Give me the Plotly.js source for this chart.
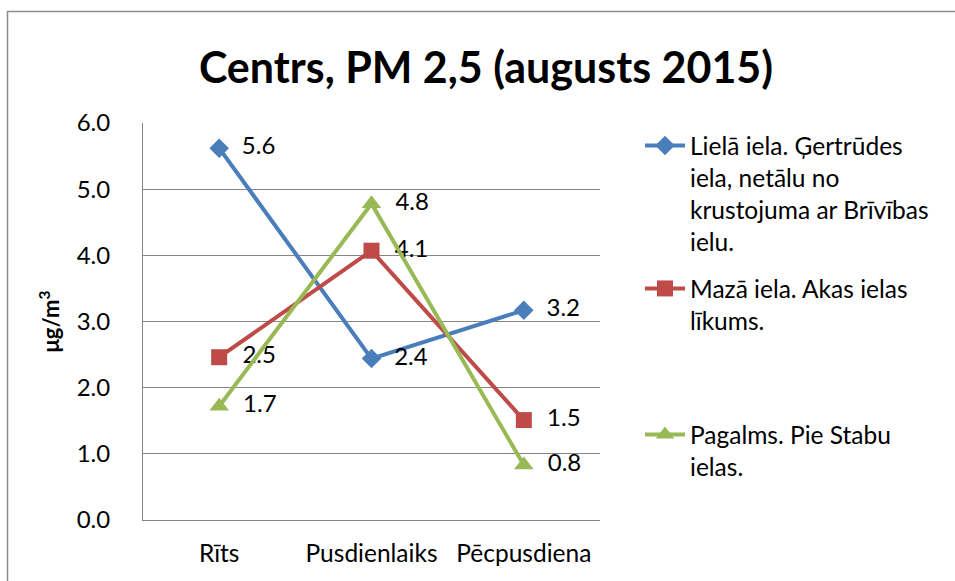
<!DOCTYPE html>
<html>
<head>
<meta charset="utf-8">
<script src="https://cdn.plot.ly/plotly-3.0.1.min.js"></script>
<style>html,body{margin:0;padding:0;background:#fff;}#chart{width:955px;height:581px;}</style>
</head>
<body>
<div id="chart"></div>
<script>
const categories = ["Rīts", "Pusdienlaiks", "Pēcpusdiena"];
const seriesNames = [
  "Lielā iela. Ģertrūdes<br>iela, netālu no<br>krustojuma ar Brīvības<br>ielu.",
  "Mazā iela. Akas ielas<br>līkums.",
  "Pagalms. Pie Stabu<br>ielas."
];
const lielaIela = [5.62, 2.44, 3.17];
const mazaIela = [2.46, 4.07, 1.51];
const pagalms = [1.72, 4.78, 0.83];
const yTicks = [0, 1, 2, 3, 4, 5, 6];

const FONT = "Lato, 'Open Sans', sans-serif";
const colors = ["#4A7EBB", "#BE4B48", "#98B954"];
const symbols = ["diamond", "square", "triangle-up"];
const sizes = [15, 16, 17];
const values = [lielaIela, mazaIela, pagalms];
const legends = ["legend", "legend2", "legend3"];

const traces = values.map((v, i) => ({
  type: "scatter",
  mode: "lines+markers+text",
  x: categories,
  y: v,
  name: seriesNames[i],
  legend: legends[i],
  line: {color: colors[i], width: 4},
  marker: {symbol: symbols[i], size: sizes[i], color: colors[i]},
  texttemplate: "\u00a0\u00a0%{y:.1f}",
  textposition: "middle right",
  textfont: {family: FONT, size: 24, color: "#000"},
  cliponaxis: false,
  hoverinfo: "x+y"
}));

const plotL = 143, plotR = 600, plotT = 123, plotB = 520;
const W = 955, H = 581;
const pw = plotR - plotL, ph = plotB - plotT;
const px = x => (x - plotL) / pw;
const py = y => (plotB - y) / ph;

const legendBase = {
  xanchor: "left", yanchor: "top",
  font: {family: FONT, size: 24.5, color: "#000"},
  bgcolor: "rgba(0,0,0,0)",
  valign: "top",
  itemwidth: 40,
  tracegroupgap: 0
};

const layout = {
  width: W, height: H,
  margin: {l: plotL, r: W - plotR, t: plotT, b: H - plotB, pad: 0},
  paper_bgcolor: "#fff",
  plot_bgcolor: "#fff",
  font: {family: FONT, color: "#000"},
  title: {
    text: "<b>Centrs, PM 2,5 (augusts 2015)</b>",
    font: {family: FONT, size: 43, color: "#000"},
    x: 486 / W, xanchor: "center",
    y: 1 - 68 / H, yanchor: "middle"
  },
  xaxis: {
    type: "category",
    range: [-0.5, 2.5],
    showgrid: false,
    showline: true, linecolor: "#868686", linewidth: 1,
    ticks: "outside", ticklen: 12, tickcolor: "rgba(0,0,0,0)",
    tickfont: {family: FONT, size: 24.5, color: "#000"},
    zeroline: false,
    fixedrange: true
  },
  yaxis: {
    range: [0, 6],
    tickvals: yTicks,
    tickformat: ".1f",
    showgrid: true, gridcolor: "#868686", gridwidth: 1,
    showline: true, linecolor: "#868686", linewidth: 1,
    ticks: "outside", ticklen: 27, tickcolor: "rgba(0,0,0,0)",
    tickfont: {family: FONT, size: 24, color: "#000"},
    zeroline: false,
    title: {
      text: "<b>μg/m<sup>3</sup></b>",
      font: {family: FONT, size: 22, color: "#000"},
      standoff: 10
    },
    fixedrange: true
  },
  showlegend: true,
  legend: Object.assign({}, legendBase, {x: px(640), y: py(123)}),
  legend2: Object.assign({}, legendBase, {x: px(640), y: py(266)}),
  legend3: Object.assign({}, legendBase, {x: px(640), y: py(412)}),
  shapes: [{
    type: "rect", xref: "paper", yref: "paper",
    x0: px(7.5), x1: px(970), y0: py(11.5), y1: py(600),
    line: {color: "#8c8c8c", width: 1.5},
    fillcolor: "rgba(0,0,0,0)",
    layer: "below"
  }]
};

Plotly.newPlot("chart", traces, layout, {displayModeBar: false});
</script>
</body>
</html>
